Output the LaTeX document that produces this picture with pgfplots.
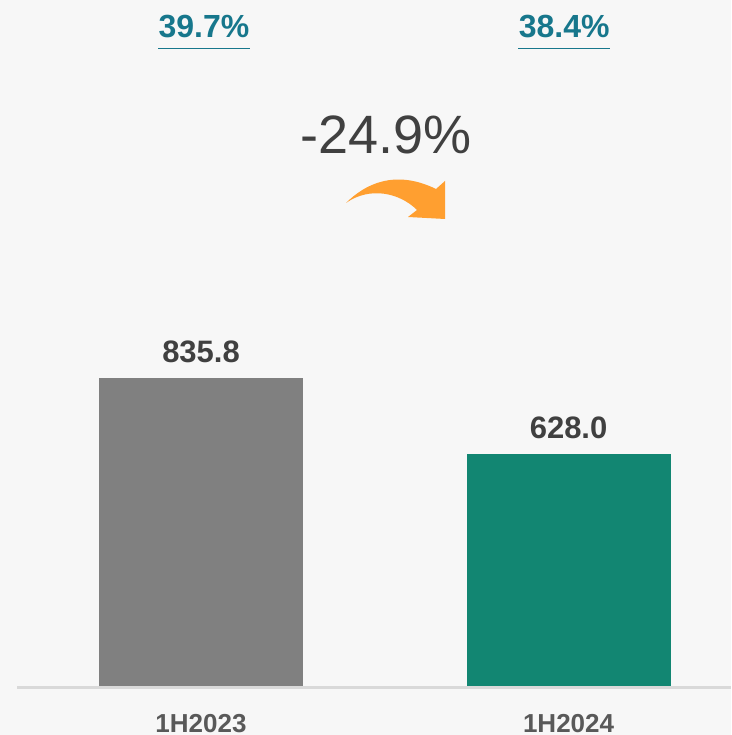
\documentclass[border=0pt]{standalone}
\usepackage{pgfplots}
\pgfplotsset{compat=1.18}
\usepackage{fontspec}
\setmainfont{Liberation Sans}
\usepackage{xcolor}

\definecolor{bgc}{HTML}{F7F7F7}
\definecolor{barGray}{HTML}{808080}
\definecolor{barTeal}{HTML}{128672}
\definecolor{pctTeal}{HTML}{17778C}
\definecolor{darkTxt}{HTML}{404040}
\definecolor{catTxt}{HTML}{595959}
\definecolor{baseLine}{HTML}{D9D9D9}
\definecolor{arrowOr}{HTML}{FF9F30}
\pagecolor{bgc}

\begin{document}
\begin{tikzpicture}
	\begin{axis}[
		scale only axis,
		width=365.5pt, height=367.5pt,
		xmin=-0.547, xmax=1.442,
		ymin=-133, ymax=1861,
		clip=false,
		axis x line=middle,
		axis y line=none,
		axis line style={draw=none},
		xtick={0,1},
		xticklabels={1H2023,1H2024},
		xtick style={draw=none},
		ytick=\empty,
		x tick label style={font=\fontsize{13}{15}\selectfont\bfseries, text=catTxt, anchor=north, inner sep=0pt, yshift=-9.5pt},
		/pgf/number format/assume math mode=true,
		ybar, bar width=102pt, bar shift=0pt,
		nodes near coords={\pgfmathprintnumber[fixed,fixed zerofill,precision=1]{\pgfplotspointmeta}},
		nodes near coords style={font=\fontsize{15.5}{18}\selectfont\bfseries, text=darkTxt, anchor=south, inner sep=0pt, yshift=7.5pt},
	]
		% 1H2023
		\addplot[fill=barGray, draw=none] coordinates {(0,835.8)};
		% 1H2024
		\addplot[fill=barTeal, draw=none] coordinates {(1,628.0)};

		% base line
		\draw[baseLine, line width=1.5pt] (axis cs:-0.5,-3) -- (axis cs:1.442,-3);

		% margins above the bars
		\node[anchor=base, inner sep=0pt, text depth=5.35pt, font=\fontsize{16}{19}\selectfont\bfseries, text=pctTeal] (p1) at (axis cs:0.008,1760) {39.7\%};
		\draw[pctTeal, line width=0.75pt] (p1.south west) -- (p1.south east);
		\node[anchor=base, inner sep=0pt, text depth=5.35pt, font=\fontsize{16}{19}\selectfont\bfseries, text=pctTeal] (p2) at (axis cs:0.988,1760) {38.4\%};
		\draw[pctTeal, line width=0.75pt] (p2.south west) -- (p2.south east);

		% change
		\node[anchor=base, inner sep=0pt, font=\fontsize{27}{32}\selectfont, text=darkTxt] at (axis cs:0.503,1445) {-24.9\%};
	\end{axis}

	% curved arrow, pixel units from the top left corner
	\begin{scope}[shift={(current axis.north west)}, x=0.5pt, y=-0.5pt]
		\fill[arrowOr] (346,203) .. controls (365,184) and (395,169) .. (436,189)
			-- (445,181) -- (445,219) -- (408,217) -- (417,210)
			.. controls (400,193) and (370,186) .. (346,203) -- cycle;
	\end{scope}

	\pgfresetboundingbox
	\path[use as bounding box] (current axis.south west) rectangle (current axis.north east);
\end{tikzpicture}
\end{document}
